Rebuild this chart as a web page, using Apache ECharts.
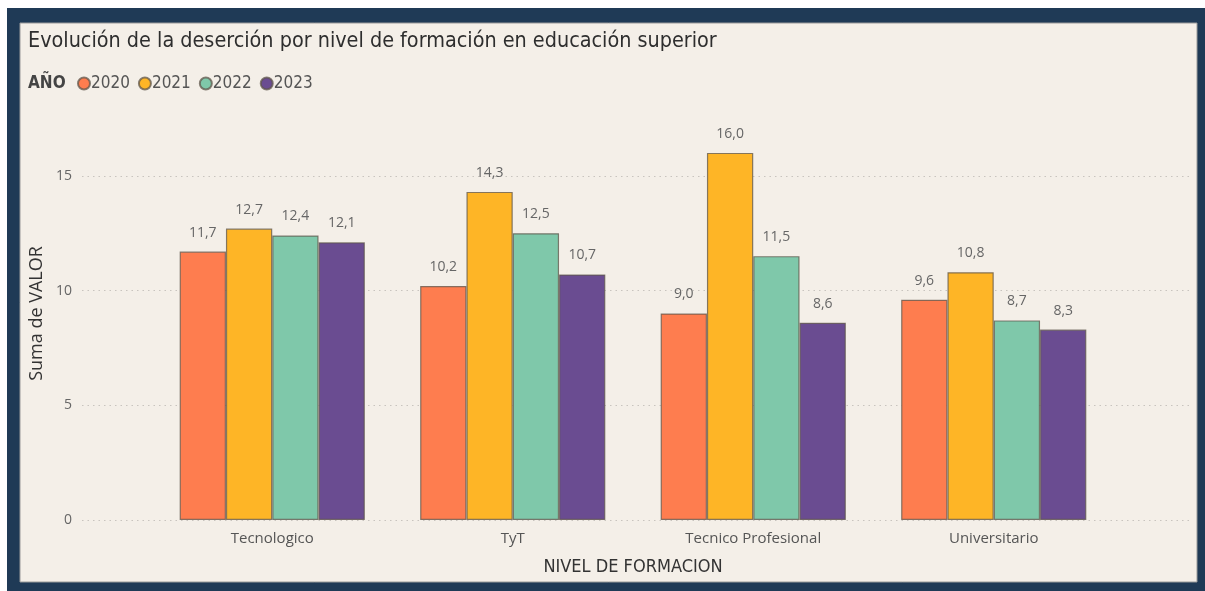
<!DOCTYPE html>
<html>
<head>
<meta charset="utf-8">
<script src="https://cdn.jsdelivr.net/npm/echarts@6/dist/echarts.min.js"></script>
<style>
html,body{margin:0;padding:0;background:#ffffff;}
#chart{width:1205px;height:591px;}
</style>
</head>
<body>
<div id="chart"></div>
<script>
const categories = ['Tecnologico', 'TyT', 'Tecnico Profesional', 'Universitario'];
const years = ['2020', '2021', '2022', '2023'];
const v2020 = [11.7, 10.2, 9.0, 9.6];
const v2021 = [12.7, 14.3, 16.0, 10.8];
const v2022 = [12.4, 12.5, 11.5, 8.7];
const v2023 = [12.1, 10.7, 8.6, 8.3];
const yTicks = [0, 5, 10, 15];

const seriesValues = [v2020, v2021, v2022, v2023];
const colors = ['#FE7D4F', '#FEB526', '#7FC8AA', '#6A4C91'];

const chart = echarts.init(document.getElementById('chart'), null, {renderer: 'canvas'});

const labelFont = '"Open Sans", "Noto Sans", sans-serif';
const dinFont = '"DejaVu Sans Condensed", "DejaVu Sans", sans-serif';

const option = {
  backgroundColor: '#ffffff',
  animation: false,
  graphic: [
    {type: 'rect', shape: {x: 7, y: 8, width: 1198, height: 583}, style: {fill: '#1F3A56'}, z: -10},
    {type: 'rect', shape: {x: 20, y: 23, width: 1177, height: 559}, style: {fill: '#F4EFE8', stroke: '#9a9a9a', lineWidth: 1}, z: -9}
  ],
  title: [
    {text: 'Evolución de la deserción por nivel de formación en educación superior', left: 23, top: 26,
     textStyle: {fontFamily: dinFont, fontSize: 21.4, fontWeight: 'normal', color: '#2e2e2e'}},
    {text: 'AÑO', left: 23, top: 70, textStyle: {fontFamily: dinFont, fontSize: 17, fontWeight: 'bold', color: '#444444'}}
  ],
  legend: {
    data: years,
    left: 72, top: 70,
    icon: 'circle',
    itemWidth: 12, itemHeight: 12, itemGap: 8,
    textStyle: {fontFamily: dinFont, fontSize: 17, color: '#555555', padding: [0, 0, 0, -4]}
  },
  grid: [
    {left: 82, right: 13, top: 176, bottom: 71},
    {left: 152, right: 91, top: 107, bottom: 71}
  ],
  xAxis: [
    {type: 'category', gridIndex: 0, data: categories, show: false},
    {type: 'category', gridIndex: 1, data: categories,
     axisLine: {show: false}, axisTick: {show: false},
     axisLabel: {fontFamily: labelFont, fontSize: 15, color: '#555555', margin: 11},
     name: 'NIVEL DE FORMACION', nameLocation: 'middle', nameGap: 38,
     nameTextStyle: {fontFamily: dinFont, fontSize: 18, color: '#333333'}}
  ],
  yAxis: [
    {type: 'value', gridIndex: 0, min: yTicks[0], max: yTicks[yTicks.length - 1], interval: 5,
     axisLine: {show: false}, axisTick: {show: false},
     axisLabel: {fontFamily: labelFont, fontSize: 14, color: '#666666', margin: 10},
     splitLine: {show: true, lineStyle: {color: '#c8c4be', type: [1.5, 4], width: 1.2}}},
    {type: 'value', gridIndex: 1, min: 0, max: 18,
     axisLine: {show: false}, axisTick: {show: false}, axisLabel: {show: false}, splitLine: {show: false},
     name: 'Suma de VALOR', nameLocation: 'middle', nameGap: 106,
     nameTextStyle: {fontFamily: labelFont, fontSize: 18, color: '#333333'}}
  ],
  series: seriesValues.map((vals, i) => ({
    name: years[i],
    type: 'bar',
    xAxisIndex: 1, yAxisIndex: 1,
    data: vals,
    barGap: '0%',
    barCategoryGap: '23%',
    itemStyle: {color: colors[i], borderColor: 'rgba(95,85,75,0.75)', borderWidth: 1.2},
    label: {
      show: true, position: 'top', distance: 12,
      fontFamily: labelFont, fontSize: 14, color: '#666666',
      formatter: p => p.value.toFixed(1).replace('.', ',')
    }
  }))
};
chart.setOption(option);
</script>
</body>
</html>
